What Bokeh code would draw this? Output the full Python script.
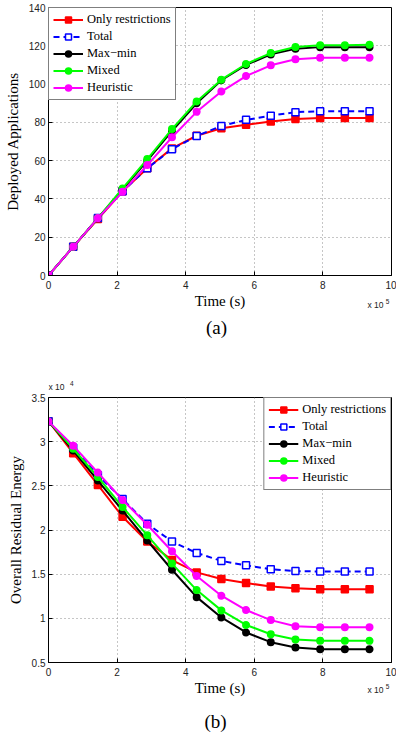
from bokeh.plotting import figure
from bokeh.layouts import column
from bokeh.models import FixedTicker, CustomJSTickFormatter, Range1d
from bokeh.core.properties import value
from bokeh.embed import file_html
from bokeh.resources import INLINE

# ---------------- data ----------------
time_1e5 = [0, 0.72, 1.44, 2.16, 2.88, 3.6, 4.32, 5.04, 5.76, 6.48, 7.2, 7.92, 8.64, 9.36]

series_names = ["Only restrictions", "Total", "Max\u2212min", "Mixed", "Heuristic"]

# (a) Deployed applications
apps_only_restr = [0, 15, 29.5, 44, 56, 66.4, 73, 76.9, 78.7, 80.4, 81.8, 82.3, 82.3, 82.3]
apps_total      = [0, 15, 30, 44, 56, 66, 72.9, 78.1, 81.3, 83.5, 85.3, 85.8, 85.8, 85.8]
apps_maxmin     = [0, 15, 30, 45, 60, 75.5, 90, 102, 110, 115.5, 118.5, 119.3, 119.3, 119.3]
apps_mixed      = [0, 15, 30, 45.5, 60.8, 76.5, 90.9, 102.3, 110.5, 116.2, 119.4, 120.3, 120.3, 120.6]
apps_heuristic  = [0, 15, 30, 43.7, 57.7, 72.2, 85.5, 96.1, 104.2, 109.8, 113, 113.8, 113.8, 113.8]

# (b) Overall residual energy (x 10^4)
energy_only_restr = [3.23, 2.87, 2.51, 2.15, 1.87, 1.66, 1.52, 1.445, 1.40, 1.36, 1.34, 1.33, 1.33, 1.33]
energy_total      = [3.23, 2.93, 2.62, 2.35, 2.07, 1.87, 1.74, 1.65, 1.60, 1.555, 1.535, 1.53, 1.53, 1.53]
energy_maxmin     = [3.23, 2.90, 2.56, 2.22, 1.88, 1.55, 1.24, 1.01, 0.84, 0.73, 0.67, 0.65, 0.65, 0.65]
energy_mixed      = [3.23, 2.92, 2.60, 2.26, 1.94, 1.62, 1.32, 1.09, 0.925, 0.82, 0.76, 0.745, 0.745, 0.745]
energy_heuristic  = [3.23, 2.955, 2.65, 2.34, 2.06, 1.76, 1.48, 1.256, 1.094, 0.98, 0.91, 0.90, 0.90, 0.90]

x_ticks = [0, 2, 4, 6, 8, 10]
apps_ticks = [0, 20, 40, 60, 80, 100, 120, 140]
energy_ticks = [0.5, 1, 1.5, 2, 2.5, 3, 3.5]

SERIF = "Liberation Serif"
SANS = "Liberation Sans"
W = 396

styles = [
    dict(color="#ff0000", dash="solid", marker="square", size=7, fill="#ff0000"),
    dict(color="#0000ff", dash="6 4", marker="square", size=7, fill="white"),
    dict(color="#000000", dash="solid", marker="circle", size=6.5, fill="#000000"),
    dict(color="#00ff00", dash="solid", marker="circle", size=6.5, fill="#00ff00"),
    dict(color="#ff00ff", dash="solid", marker="circle", size=6.5, fill="#ff00ff"),
]


def style_axes(p, ylabel):
    p.outline_line_color = "black"
    p.outline_line_width = 1
    for ax in (p.xaxis[0], p.yaxis[0]):
        ax.axis_line_color = "black"
        ax.major_tick_in = 4
        ax.major_tick_out = 0
        ax.minor_tick_line_color = None
        ax.major_label_text_font = SANS
        ax.major_label_text_font_size = "10px"
        ax.major_label_text_color = "#222222"
        ax.axis_label_text_font = SERIF
        ax.axis_label_text_font_size = "15px"
        ax.axis_label_text_font_style = "normal"
        ax.axis_label_text_color = "black"
    p.xaxis.major_label_standoff = 5
    p.yaxis.major_label_standoff = 3
    p.yaxis.axis_label = ylabel
    p.yaxis.axis_label_standoff = 5
    p.xaxis.ticker = FixedTicker(ticks=x_ticks)
    p.xaxis.formatter = CustomJSTickFormatter(code="return tick.toString();")
    p.yaxis.formatter = CustomJSTickFormatter(code="return tick.toString();")
    for g in (p.xgrid[0], p.ygrid[0]):
        g.grid_line_color = "#8c8c8c"
        g.grid_line_dash = "1 3"
        g.grid_line_width = 1


def add_series(p, ys_list):
    for name, ys, st in zip(series_names, ys_list, styles):
        p.line(time_1e5, ys, line_color=st["color"], line_width=2,
               line_dash=st["dash"], legend_label=name)
        p.scatter(time_1e5, ys, marker=st["marker"], size=st["size"],
                  line_color=st["color"], fill_color=st["fill"], line_width=1.5,
                  legend_label=name)


def style_legend(p, loc):
    lg = p.legend[0]
    lg.location = loc
    lg.margin = 0
    lg.padding = 4
    lg.spacing = 2
    lg.glyph_width = 30
    lg.glyph_height = 15
    lg.label_standoff = 4
    lg.label_text_font = SERIF
    lg.label_text_font_size = "12.5px"
    lg.label_text_color = "black"
    lg.border_line_color = "black"
    lg.border_line_width = 1.5
    lg.background_fill_alpha = 1


def strip(height):
    # text strip sharing the plots' horizontal frame; y counts pixels from its top
    s = figure(width=W, height=height, x_range=(0, 10), y_range=Range1d(height, 0),
               x_axis_type=None, y_axis_type=None, output_backend="svg",
               toolbar_location=None, min_border_left=48, min_border_right=5,
               min_border_top=0, min_border_bottom=0)
    s.outline_line_color = None
    return s


def put(s, x, y, txt, font, size, align="left", color="black"):
    s.text(x=[x], y=[y], text=[txt], text_font=value(font), text_font_size=value(size),
           text_align=align, text_baseline="middle", text_color=color)


# ---------------- (a) ----------------
p1 = figure(width=W, height=292, x_range=(0, 10), y_range=(0, 140),
            output_backend="svg", toolbar_location=None,
            min_border_left=48, min_border_right=5, min_border_top=7, min_border_bottom=17)
style_axes(p1, "Deployed Applications")
p1.yaxis.ticker = FixedTicker(ticks=apps_ticks)
add_series(p1, [apps_only_restr, apps_total, apps_maxmin, apps_mixed, apps_heuristic])
style_legend(p1, "top_left")

s1 = strip(100)
put(s1, 5.0, 8, "Time (s)", SERIF, "15px", "center")
put(s1, 9.30, 12.5, "x 10", SANS, "8.5px", "left", "#222222")
put(s1, 9.83, 8.5, "5", SANS, "6.5px", "left", "#222222")
put(s1, 4.9, 35, "(a)", SERIF, "19px", "center")
put(s1, 0.0, 94.5, "x 10", SANS, "8.5px", "left", "#222222")
put(s1, 0.63, 90.5, "4", SANS, "6.5px", "left", "#222222")

# ---------------- (b) ----------------
p2 = figure(width=W, height=287, x_range=(0, 10), y_range=(0.5, 3.5),
            output_backend="svg", toolbar_location=None,
            min_border_left=48, min_border_right=5, min_border_top=5, min_border_bottom=17)
style_axes(p2, "Overall Residual Energy")
p2.yaxis.ticker = FixedTicker(ticks=energy_ticks)
add_series(p2, [energy_only_restr, energy_total, energy_maxmin, energy_mixed, energy_heuristic])
style_legend(p2, "top_right")

s2 = strip(55)
put(s2, 5.0, 8, "Time (s)", SERIF, "15px", "center")
put(s2, 9.30, 10.5, "x 10", SANS, "8.5px", "left", "#222222")
put(s2, 9.83, 6.5, "5", SANS, "6.5px", "left", "#222222")
put(s2, 4.87, 42, "(b)", SERIF, "19px", "center")

layout = column(p1, s1, p2, s2, spacing=0)
open("out.html", "w").write(file_html(layout, INLINE))
